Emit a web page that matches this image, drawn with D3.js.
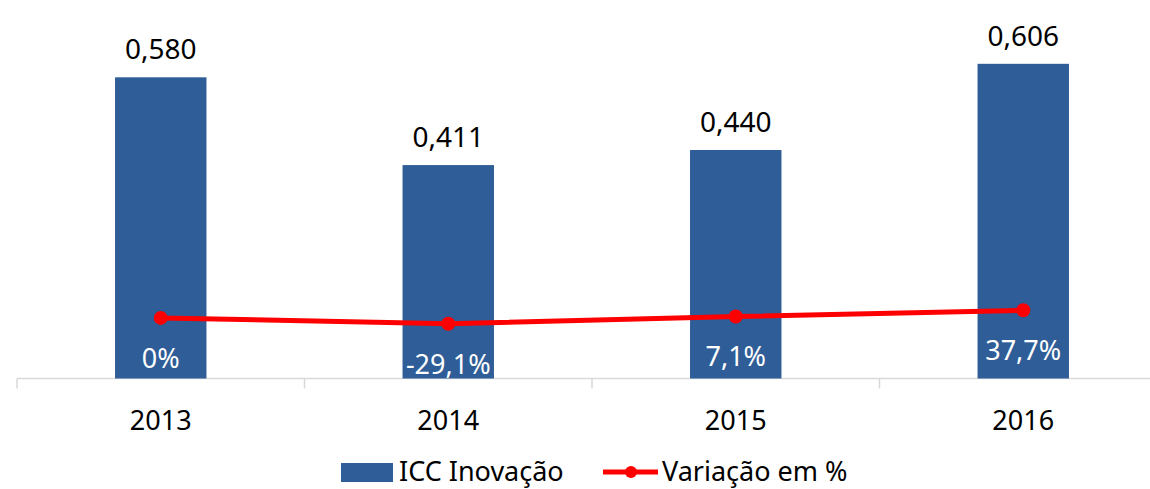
<!DOCTYPE html>
<html>
<head>
<meta charset="utf-8">
<script src="https://cdn.jsdelivr.net/npm/d3@7"></script>
<style>
	body { margin: 0; background: #fff; }
	text { font-family: "Noto Sans", "Open Sans", sans-serif; }
</style>
</head>
<body>
<svg id="mainsvg" width="1150" height="489"></svg>
<script>
var years = ['2013', '2014', '2015', '2016'];
var iccValues = [0.580, 0.411, 0.440, 0.606];
var variacao = [0, -29.1, 7.1, 37.7];
var barLabels = ['0,580', '0,411', '0,440', '0,606'];
var varLabels = ['0%', '-29,1%', '7,1%', '37,7%'];
var legendNames = ['ICC Inovação', 'Variação em %'];

var svg = d3.select('#mainsvg');
var W = 1150, base = 378.5, yTop = 15;

var x = d3.scaleBand()
	.domain(years)
	.range([17, 1167])
	.paddingInner(0.682)
	.paddingOuter(0.341);
var step = x.step();

var y = d3.scaleLinear().domain([0, 0.7]).range([base, yTop]);
// secondary axis (hidden), in %
var y2 = d3.scaleLinear().domain([-300, 1500]).range([base, yTop]);

var cx = function(d) { return x(d) + x.bandwidth() / 2; };

// axis line + ticks at category boundaries
svg.append('line')
	.attr('x1', 17).attr('x2', W)
	.attr('y1', base).attr('y2', base)
	.attr('stroke', '#d9d9d9').attr('stroke-width', 1.5);
svg.selectAll('.tick')
	.data(years)
	.enter()
	.append('line')
	.attr('class', 'tick')
	.attr('x1', function(d) { return x(d) - step * x.paddingOuter(); })
	.attr('x2', function(d) { return x(d) - step * x.paddingOuter(); })
	.attr('y1', base).attr('y2', base + 10)
	.attr('stroke', '#d9d9d9').attr('stroke-width', 1.5);

// bars
svg.selectAll('.bar')
	.data(iccValues)
	.enter()
	.append('rect')
	.attr('class', 'bar')
	.attr('x', function(d, i) { return x(years[i]); })
	.attr('y', function(d) { return y(d); })
	.attr('width', x.bandwidth())
	.attr('height', function(d) { return base - y(d); })
	.attr('fill', '#2e5d97');

svg.selectAll('.barlabel')
	.data(iccValues)
	.enter()
	.append('text')
	.attr('class', 'barlabel')
	.attr('x', function(d, i) { return cx(years[i]); })
	.attr('y', function(d) { return y(d) - 18; })
	.attr('text-anchor', 'middle')
	.attr('font-size', 28)
	.attr('fill', '#000')
	.text(function(d, i) { return barLabels[i]; });

// year labels
svg.selectAll('.year')
	.data(years)
	.enter()
	.append('text')
	.attr('class', 'year')
	.attr('x', cx)
	.attr('y', 430)
	.attr('text-anchor', 'middle')
	.attr('font-size', 27)
	.attr('fill', '#000')
	.text(function(d) { return d; });

// variation line
var line = d3.line()
	.x(function(d, i) { return cx(years[i]); })
	.y(function(d) { return y2(d); });

svg.append('path')
	.attr('d', line(variacao))
	.attr('stroke', '#ff0000')
	.attr('stroke-width', 5)
	.attr('fill', 'none');

svg.selectAll('.dot')
	.data(variacao)
	.enter()
	.append('circle')
	.attr('class', 'dot')
	.attr('cx', function(d, i) { return cx(years[i]); })
	.attr('cy', function(d) { return y2(d); })
	.attr('r', 7)
	.attr('fill', '#ff0000');

svg.selectAll('.varlabel')
	.data(variacao)
	.enter()
	.append('text')
	.attr('class', 'varlabel')
	.attr('x', function(d, i) { return cx(years[i]); })
	.attr('y', function(d) { return y2(d) + 50; })
	.attr('text-anchor', 'middle')
	.attr('font-size', 27)
	.attr('fill', '#fff')
	.text(function(d, i) { return varLabels[i]; });

// legend
var lg = svg.append('g');
lg.append('rect')
	.attr('x', 341).attr('y', 463)
	.attr('width', 52).attr('height', 19)
	.attr('fill', '#2e5d97');
lg.append('text')
	.attr('x', 399).attr('y', 481)
	.attr('font-size', 27)
	.text(legendNames[0]);
lg.append('line')
	.attr('x1', 603).attr('x2', 658)
	.attr('y1', 472).attr('y2', 472)
	.attr('stroke', '#ff0000').attr('stroke-width', 5);
lg.append('circle')
	.attr('cx', 631).attr('cy', 472).attr('r', 6)
	.attr('fill', '#ff0000');
lg.append('text')
	.attr('x', 662).attr('y', 481)
	.attr('font-size', 27)
	.text(legendNames[1]);
</script>
</body>
</html>
